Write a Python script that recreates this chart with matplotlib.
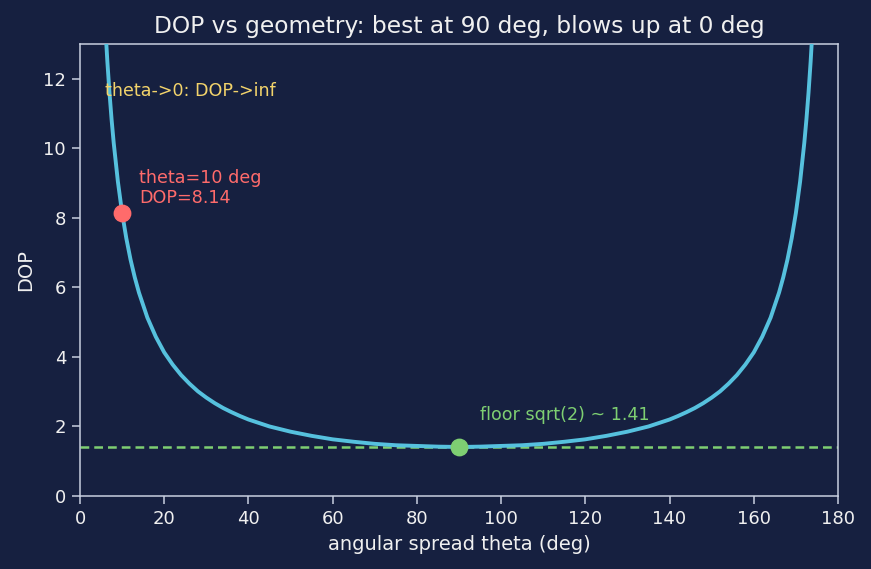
import matplotlib
matplotlib.use("Agg")
import matplotlib.pyplot as plt

plt.rcParams["font.family"] = ["DejaVu Sans"]

# DOP (deg -> DOP)
theta_deg = [5, 5.5, 6, 6.5, 7, 7.5, 8, 9, 10, 11, 12, 13, 14, 16, 18, 20, 22, 24, 26, 28,
             30, 32, 34, 36, 38, 40, 45, 50, 55, 60, 65, 70, 75, 80, 85, 90,
             95, 100, 105, 110, 115, 120, 125, 130, 135, 140, 142, 144, 146, 148,
             150, 152, 154, 156, 158, 160, 162, 164, 166, 167, 168, 169, 170, 171,
             172, 172.5, 173, 173.5, 174, 174.5, 175]
dop = [16.23, 14.75, 13.53, 12.49, 11.60, 10.83, 10.16, 9.04, 8.14, 7.41, 6.80, 6.29, 5.85,
       5.13, 4.58, 4.13, 3.78, 3.48, 3.23, 3.01,
       2.83, 2.67, 2.53, 2.41, 2.30, 2.20, 2.00, 1.85, 1.73, 1.63, 1.56, 1.50, 1.46, 1.44, 1.42, 1.41,
       1.42, 1.44, 1.46, 1.50, 1.56, 1.63, 1.73, 1.85, 2.00, 2.20, 2.30, 2.41, 2.53, 2.67,
       2.83, 3.01, 3.23, 3.48, 3.78, 4.13, 4.58, 5.13, 5.85, 6.29, 6.80, 7.41, 8.14, 9.04,
       10.16, 10.83, 11.60, 12.49, 13.53, 14.75, 16.23]

floor_dop = 1.41
marked_theta, marked_dop = 10, 8.14
best_theta = 90

BG = "#162040"
FG = "#f0f0f0"
SPINE = "#c8d0e0"
CURVE = "#56c1de"
RED = "#ff6b6b"
GREEN = "#7ecf72"
YELLOW = "#f2d36b"

fig = plt.figure(figsize=(8.71, 5.69), dpi=100, facecolor=BG)
ax = fig.add_axes([80 / 871, 73 / 569, 758 / 871, 452 / 569], facecolor=BG)

ax.axhline(floor_dop, color=GREEN, linestyle="--", linewidth=1.8, dashes=(3.5, 2), zorder=2)
ax.plot(theta_deg, dop, color=CURVE, linewidth=2.8, zorder=3)
ax.scatter([marked_theta], [marked_dop], s=140, color=RED, zorder=4)
ax.scatter([best_theta], [floor_dop], s=140, color=GREEN, zorder=4)

ax.text(14, 8.3, f"theta={marked_theta} deg\nDOP={marked_dop:.2f}", color=RED,
        fontsize=12.6, va="bottom", linespacing=1.15)
ax.text(95, 2.2, f"floor sqrt(2) ~ {floor_dop:.2f}", color=GREEN, fontsize=12.6)
ax.text(6, 11.5, "theta->0: DOP->inf", color=YELLOW, fontsize=12.6)

ax.set_xlim(0, 180)
ax.set_ylim(0, 13)
ax.set_xticks(range(0, 181, 20))
ax.set_yticks(range(0, 13, 2))
ax.set_xlabel("angular spread theta (deg)", color=FG, fontsize=14, labelpad=5)
ax.set_ylabel("DOP", color=FG, fontsize=14, labelpad=6)
ax.set_title("DOP vs geometry: best at 90 deg, blows up at 0 deg", color=FG,
             fontsize=16.8, pad=8)
ax.tick_params(colors=SPINE, labelcolor=FG, labelsize=13, length=5.5, width=1.1, pad=4.5)
for s in ax.spines.values():
    s.set_color(SPINE)
    s.set_linewidth(1.1)

fig.savefig("out.png", dpi=100, facecolor=BG)
